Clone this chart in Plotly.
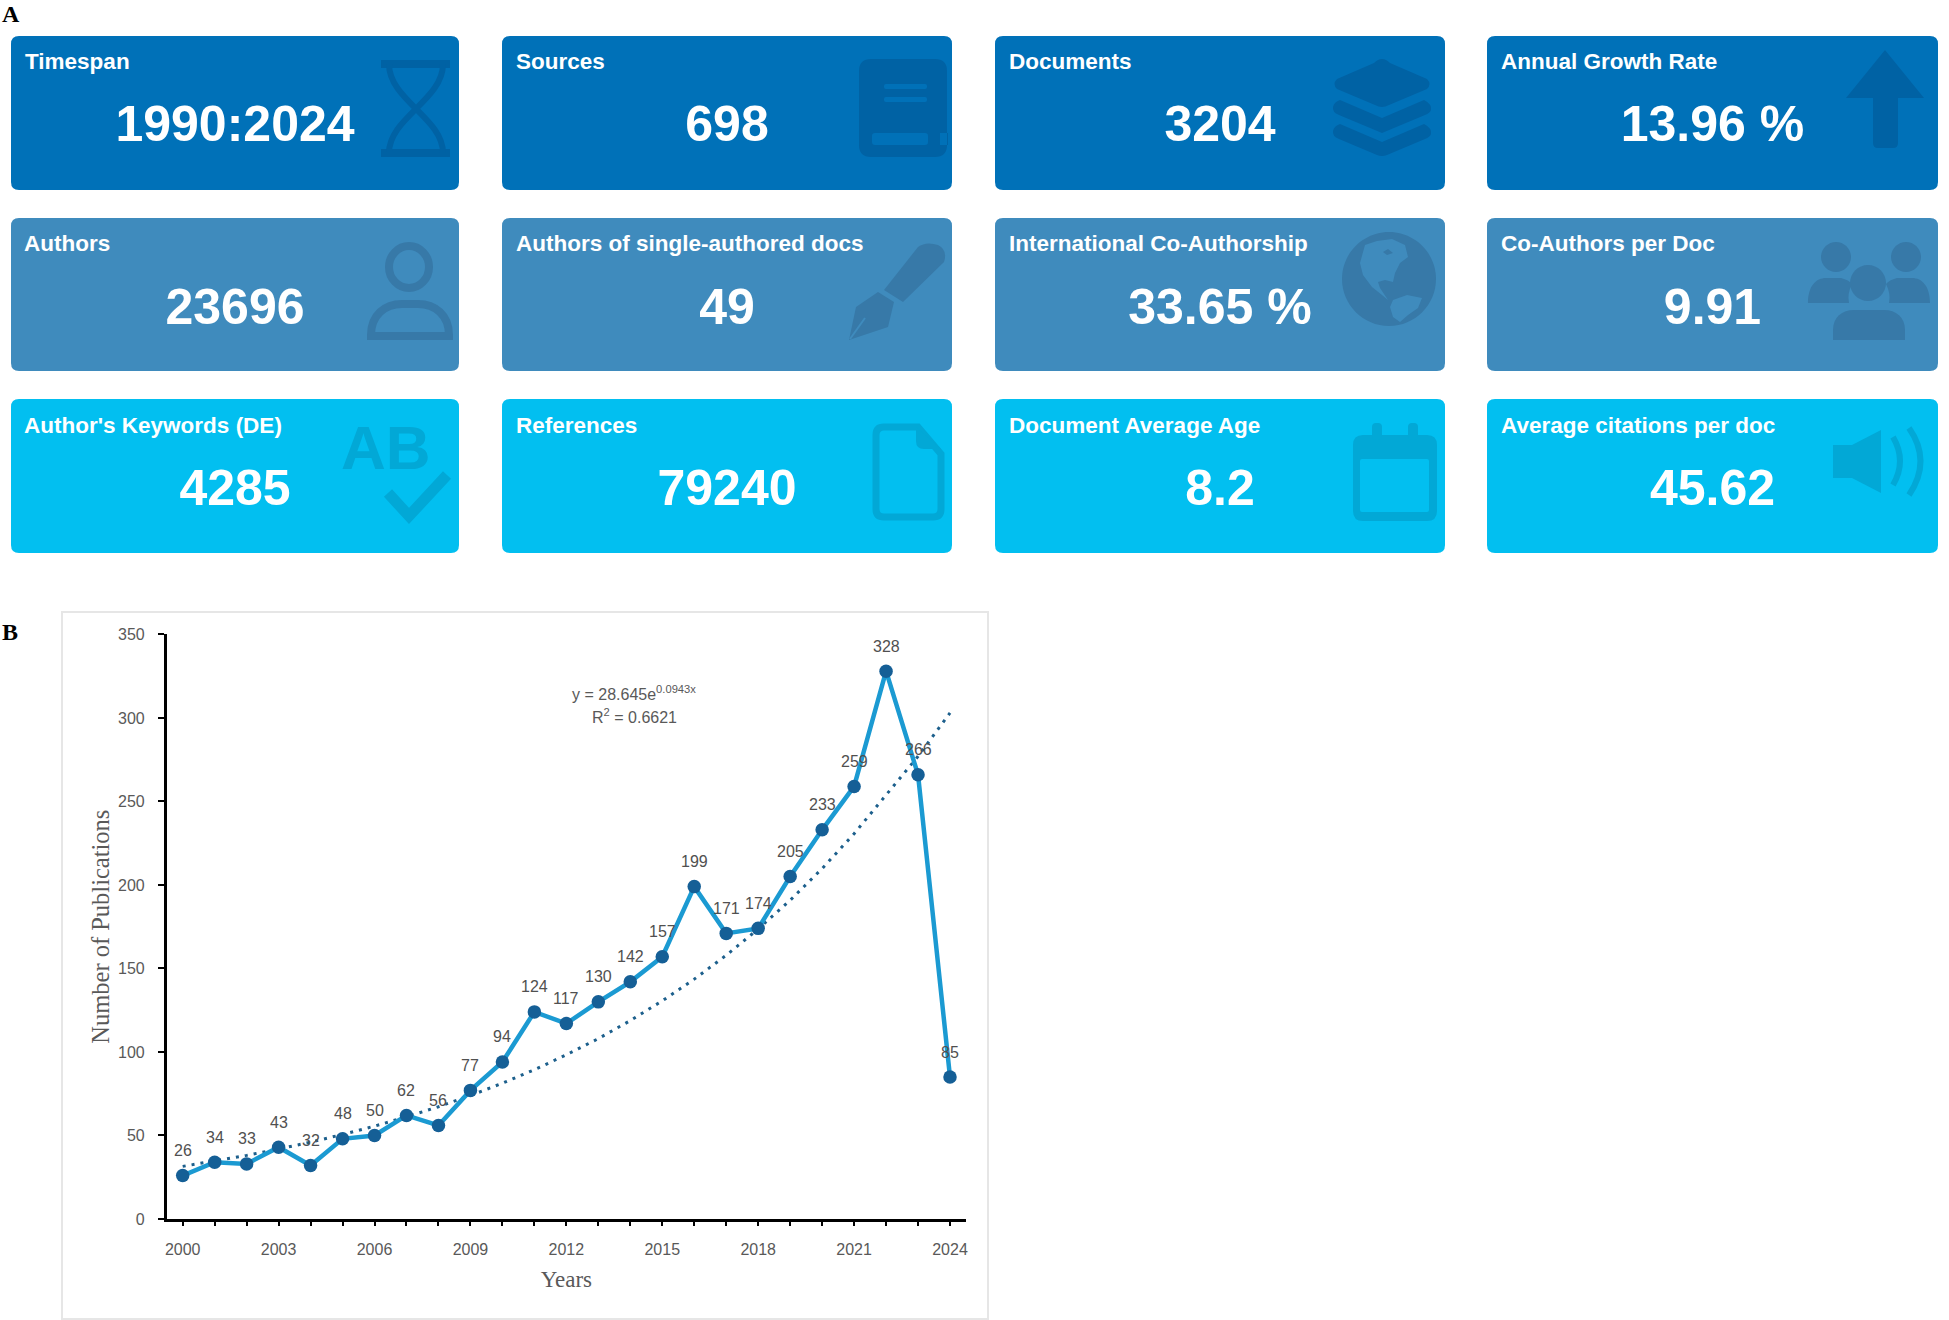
import plotly.graph_objects as go

# panel A
card_titles = [
    "Timespan", "Sources", "Documents", "Annual Growth Rate",
    "Authors", "Authors of single-authored docs", "International Co-Authorship", "Co-Authors per Doc",
    "Author's Keywords (DE)", "References", "Document Average Age", "Average citations per doc",
]
card_values = [
    "1990:2024", "698", "3204", "13.96 %",
    "23696", "49", "33.65 %", "9.91",
    "4285", "79240", "8.2", "45.62",
]

# panel B
years = list(range(2000, 2025))
publications = [26, 34, 33, 43, 32, 48, 50, 62, 56, 77, 94, 124, 117, 130, 142, 157, 199, 171, 174, 205, 233, 259, 328, 266, 85]
trend = [31.5, 34.6, 38.1, 41.9, 46, 50.6, 55.6, 61.2, 67.2, 73.9, 81.3, 89.4, 98.3, 108, 118.8, 130.6, 143.6, 157.9,
         173.6, 190.8, 209.8, 230.7, 253.7, 277, 303]
y_ticks = [0, 50, 100, 150, 200, 250, 300, 350]
x_ticks = list(range(2000, 2025, 3))

W, H = 1949, 1320
col_x = [(11, 459), (502, 952), (995, 1445), (1487, 1938)]
row_y = [(36, 190), (218, 371), (399, 553)]
title_x = [[25, 516, 1009, 1501], [24, 516, 1009, 1501], [24, 516, 1009, 1501]]
title_y = [63, 245, 427]
value_y = [128, 311, 492]
bg = ["#0071B8", "#3F8BBD", "#02BFF0"]
dark = ["#0062A4", "#3779A8", "#02A8D6"]


def rounded(x0, y0, x1, y1, r=8):
    return (f"M{x0+r} {y0} L{x1-r} {y0} Q{x1} {y0} {x1} {y0+r} L{x1} {y1-r} Q{x1} {y1} {x1-r} {y1} "
            f"L{x0+r} {y1} Q{x0} {y1} {x0} {y1-r} L{x0} {y0+r} Q{x0} {y0} {x0+r} {y0} Z")


def ellipse(cx, cy, rx, ry):
    return (f"M{cx-rx} {cy} C{cx-rx} {cy-ry*0.55} {cx-rx*0.55} {cy-ry} {cx} {cy-ry} "
            f"C{cx+rx*0.55} {cy-ry} {cx+rx} {cy-ry*0.55} {cx+rx} {cy} "
            f"C{cx+rx} {cy+ry*0.55} {cx+rx*0.55} {cy+ry} {cx} {cy+ry} "
            f"C{cx-rx*0.55} {cy+ry} {cx-rx} {cy+ry*0.55} {cx-rx} {cy} Z")


def fill(path, color):
    return dict(type="path", path=path, xref="x2", yref="y2", fillcolor=color, line=dict(width=0), layer="below")


def stroke(path, color, width):
    return dict(type="path", path=path, xref="x2", yref="y2", line=dict(color=color, width=width), layer="below")


shapes = []
for r, (y0, y1) in enumerate(row_y):
    for x0, x1 in col_x:
        shapes.append(fill(rounded(x0, y0, x1, y1), bg[r]))

# icons, row 1
shapes += [
    stroke("M381 64 L450 64 M381 153 L450 153", dark[0], 8),
    stroke("M389 64 C389 100 443 118 443 153 M443 64 C443 100 389 118 389 153", dark[0], 6),
    fill(rounded(859, 59, 947, 157, 12) + " " + rounded(884, 84, 927, 89, 2) + " " + rounded(884, 97, 927, 102, 2)
         + " " + rounded(872, 133, 928, 145, 3) + " M940 133 L948 133 L948 145 L940 145 Z", dark[0]),
    fill("M1382 59 Q1386 59 1390 63 L1427 79 Q1432 84 1427 89 L1389 105 Q1382 109 1375 105 L1337 89 Q1332 84 1337 79 L1374 63 Q1378 59 1382 59 Z", dark[0]),
    fill("M1340 100 L1382 118 L1424 100 Q1432 104 1431 110 Q1430 113 1425 115 L1382 133 L1339 115 Q1332 112 1333 107 Q1334 102 1340 100 Z", dark[0]),
    fill("M1340 124 L1382 142 L1424 124 Q1432 128 1431 134 Q1430 137 1425 139 L1387 155 Q1382 157 1377 155 L1339 139 Q1332 136 1333 131 Q1334 126 1340 124 Z", dark[0]),
    fill("M1885 50 L1924 98 L1898 98 L1898 143 Q1898 148 1893 148 L1878 148 Q1873 148 1873 143 L1873 98 L1846 98 Z", dark[0]),
]
# icons, row 2
shapes += [
    stroke(ellipse(409, 267, 20, 21), dark[1], 8),
    stroke("M371 336 L449 336 L449 335 C449 315 435 304 418 304 L402 304 C385 304 371 315 371 335 Z", dark[1], 8),
    fill("M918 247 Q926 241 938 245 Q948 250 944 262 L903 302 L884 290 Z", dark[1]),
    fill("M878 292 L894 302 L888 327 L849 340 L856 307 Z", dark[1]),
    stroke("M850 339 L865 318", bg[1], 2),
    fill(ellipse(1389, 279, 47, 47), dark[1]),
    fill("M1365 245 L1377 241 L1392 239 L1405 245 L1408 257 L1400 263 L1395 273 L1393 282 L1385 280 L1378 282 L1380 288 "
         "L1388 300 L1382 295 L1372 287 L1363 275 L1360 263 Z", bg[1]),
    fill("M1383 252 L1388 249 L1393 253 L1387 255 Z", dark[1]),
    fill("M1393 300 L1407 295 L1422 298 L1418 308 L1408 315 L1400 322 L1393 317 L1390 307 Z", bg[1]),
    fill(ellipse(1836, 257, 15, 15), dark[1]),
    fill(ellipse(1906, 257, 15, 15), dark[1]),
    fill(ellipse(1868, 283, 18, 18), dark[1]),
    fill("M1808 303 C1808 286 1816 278 1826 278 L1841 278 Q1849 280 1852 284 Q1847 294 1849 303 Z", dark[1]),
    fill("M1930 303 C1930 286 1922 278 1912 278 L1897 278 Q1889 280 1886 284 Q1891 294 1889 303 Z", dark[1]),
    fill("M1833 340 L1833 330 C1833 317 1842 310 1854 310 L1884 310 C1896 310 1905 317 1905 330 L1905 340 Z", dark[1]),
]
# icons, row 3
shapes += [
    stroke("M388 493 L409 516 L447 475", dark[2], 11),
    stroke("M876 435 Q876 427 884 427 L918 427 L941 454 L941 509 Q941 517 933 517 L884 517 Q876 517 876 509 Z", dark[2], 7),
    fill("M916 427 L916 441 Q916 449 924 449 L941 449 Z", dark[2]),
    fill(rounded(1353, 435, 1437, 521, 10) + " " + rounded(1360, 459, 1429, 512, 2), dark[2]),
    fill(rounded(1372, 423, 1382, 440, 4), dark[2]),
    fill(rounded(1408, 423, 1418, 440, 4), dark[2]),
    fill("M1833 445 L1852 445 L1881 430 L1881 493 L1852 478 L1833 478 Z", dark[2]),
    stroke("M1893 437 Q1907 461 1893 485 M1909 428 Q1932 461 1909 495", dark[2], 6),
]
# frame round panel B
shapes.append(dict(type="rect", x0=62, y0=612, x1=988, y1=1319, xref="x2", yref="y2",
                   line=dict(color="#E6E6E6", width=2), layer="below"))

fig = go.Figure()

fig.add_trace(go.Scatter(x=years, y=trend, mode="lines", line=dict(color="#1C5F8C", width=3, dash="3px,6px"),
                         hoverinfo="skip"))
fig.add_trace(go.Scatter(x=years, y=publications, mode="lines+markers", line=dict(color="#1B9AD2", width=4.5),
                         marker=dict(color="#155F96", size=13.5)))

# card texts, in pixel coordinates of the hidden axes
title_xs = [title_x[r][c] for r in range(3) for c in range(4)]
title_ys = [title_y[r] for r in range(3) for c in range(4)]
value_xs = [(col_x[c][0] + col_x[c][1]) / 2 for r in range(3) for c in range(4)]
value_ys = [value_y[r] for r in range(3) for c in range(4)]
fig.add_trace(go.Scatter(x=title_xs, y=title_ys, text=card_titles, mode="text", textposition="middle right",
                         textfont=dict(family="Liberation Sans", size=22.5, color="white", weight="bold"),
                         xaxis="x2", yaxis="y2", hoverinfo="skip"))
fig.add_trace(go.Scatter(x=value_xs, y=value_ys, text=card_values, mode="text", textposition="middle center",
                         textfont=dict(family="Liberation Sans", size=50, color="white", weight="bold"),
                         xaxis="x2", yaxis="y2", hoverinfo="skip"))

annotations = []
for yr, v in zip(years, publications):
    annotations.append(dict(x=yr, y=v, xref="x", yref="y", text=str(v), showarrow=False, yshift=25,
                            font=dict(family="Liberation Sans", size=16, color="#505050")))

# AB glyphs of the keywords icon, plus panel letters and the trend equation
annotations += [
    dict(x=386, y=447, xref="x2", yref="y2", text="<b>AB</b>", showarrow=False,
         font=dict(family="Liberation Sans", size=62, color=dark[2])),
    dict(x=0, y=14, xref="x2", yref="y2", text="<b>A</b>", showarrow=False, xanchor="left",
         font=dict(family="Liberation Serif", size=24, color="black")),
    dict(x=0, y=632, xref="x2", yref="y2", text="<b>B</b>", showarrow=False, xanchor="left",
         font=dict(family="Liberation Serif", size=24, color="black")),
    dict(x=634, y=693, xref="x2", yref="y2", text="y = 28.645e<sup>0.0943x</sup>", showarrow=False,
         font=dict(family="Liberation Sans", size=16, color="#595959")),
    dict(x=634, y=716, xref="x2", yref="y2", text="R<sup>2</sup> = 0.6621", showarrow=False,
         font=dict(family="Liberation Sans", size=16, color="#595959")),
]

fig.update_layout(
    width=W,
    height=H,
    autosize=False,
    margin=dict(l=0, r=0, t=0, b=0, autoexpand=False),
    paper_bgcolor="white",
    plot_bgcolor="rgba(0,0,0,0)",
    showlegend=False,
    shapes=shapes,
    annotations=annotations,
    xaxis=dict(
        domain=[166.7 / W, 966 / W],
        range=[1999.5, 2024.5],
        automargin=False,
        tickvals=x_ticks,
        ticks="outside",
        ticklen=4,
        tickwidth=2,
        tickcolor="black",
        ticklabelstandoff=10,
        minor=dict(tickvals=years, ticks="outside", ticklen=4, tickwidth=2, tickcolor="black"),
        showgrid=False,
        zeroline=False,
        showline=True,
        linecolor="black",
        linewidth=2.5,
        tickfont=dict(family="Liberation Sans", size=16, color="#595959"),
        title=dict(text="Years", standoff=14, font=dict(family="Liberation Serif", size=23, color="#595959")),
    ),
    yaxis=dict(
        domain=[(H - 1219) / H, (H - 634.4) / H],
        range=[0, 350],
        automargin=False,
        tickvals=y_ticks,
        ticks="outside",
        ticklen=6,
        tickwidth=2,
        tickcolor="black",
        ticklabelstandoff=10,
        showgrid=False,
        zeroline=False,
        showline=True,
        linecolor="black",
        linewidth=2.5,
        tickfont=dict(family="Liberation Sans", size=16, color="#595959"),
        title=dict(text="Number of Publications", standoff=2, font=dict(family="Liberation Serif", size=24.5, color="#595959")),
    ),
    xaxis2=dict(domain=[0, 1], range=[0, W], anchor="y2", visible=False, automargin=False),
    yaxis2=dict(domain=[0, 1], range=[H, 0], anchor="x2", visible=False, automargin=False),
)

fig.write_html(
    "out.html",
    config={"displayModeBar": False},
    post_script="document.body.style.margin='0';",
)
